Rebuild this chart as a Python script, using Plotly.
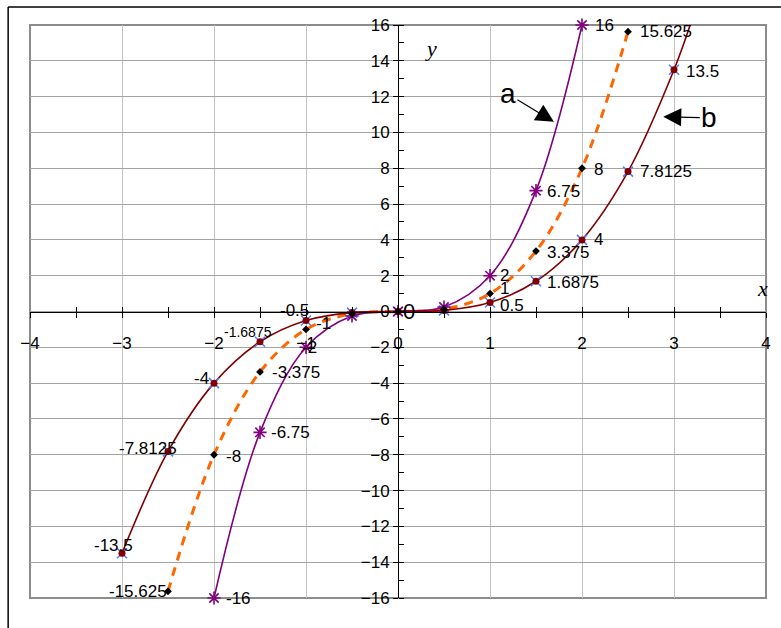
import plotly.graph_objects as go

# ---------------- data ----------------
xa = [-2, -1.5, -1, -0.5, 0, 0.5, 1, 1.5, 2]
ya = [-16, -6.75, -2, -0.25, 0, 0.25, 2, 6.75, 16]
la = ["-16", "-6.75", "-2", "", "0", "", "2", "6.75", "16"]

xo = [-2.5, -2, -1.5, -1, -0.5, 0, 0.5, 1, 1.5, 2, 2.5]
yo = [-15.625, -8, -3.375, -1, -0.125, 0, 0.125, 1, 3.375, 8, 15.625]
lo = ["-15.625", "-8", "-3.375", "-1", "", "", "", "1", "3.375", "8", "15.625"]

xb = [-3, -2.5, -2, -1.5, -1, -0.5, 0, 0.5, 1, 1.5, 2, 2.5, 3]
yb = [-13.5, -7.8125, -4, -1.6875, -0.5, -0.0625, 0, 0.0625, 0.5, 1.6875, 4, 7.8125, 13.5]
lb = ["-13.5", "-7.8125", "-4", "-1.6875", "-0.5", "", "", "", "0.5", "1.6875", "4", "7.8125", "13.5"]
# curve b continues past the last marker to the top edge
xb_line = xb + [3.2]
yb_line = yb + [16.38]

x_range = [-4, 4]
y_range = [-16, 16]

# ---------------- styles ----------------
PURPLE = "#800080"
DARKRED = "#800000"
ORANGE = "#ff6600"
BLUE = "#4f7dff"
FONT = "Liberation Sans, Arial, sans-serif"
LS = 17  # label size

# label placement: (xanchor, xshift, yshift, size)
pa = [("left", 10, 0, LS), ("left", 9, 0, LS), ("left", -6, 0, LS), None, ("left", 3, 0, 22),
      None, ("left", 8, 0, LS), ("left", 9, -1, LS), ("left", 11, 0, LS)]
po = [("right", 0.5, 0, LS), ("left", 10, -2, LS), ("left", 10, -1, LS), ("left", 8, 6, LS),
      None, None, None, ("left", 8, 5, LS), ("left", 9, -1, LS), ("left", 10, -1, LS),
      ("left", 10, 0, LS)]
pb = [("right", 13, 8, LS), ("right", 10.5, 3, LS), ("right", -3, 5, LS), ("right", 14, 10, 14),
      ("right", 4.6, 9.5, LS), None, None, None, ("left", 8, -2.5, LS), ("left", 9, -1, LS),
      ("left", 10, 0, LS), ("left", 9.5, 0, LS), ("left", 10, -2, LS)]

fig = go.Figure()

# orange dashed curve y = x^3
fig.add_trace(go.Scatter(x=xo, y=yo, mode="lines",
                         line=dict(color=ORANGE, width=3, dash="9px,7px", shape="spline"),
                         hoverinfo="skip", showlegend=False))
# curve a
fig.add_trace(go.Scatter(x=xa, y=ya, mode="lines",
                         line=dict(color=PURPLE, width=1.6, shape="spline"),
                         showlegend=False))
# curve b
fig.add_trace(go.Scatter(x=xb_line, y=yb_line, mode="lines",
                         line=dict(color=DARKRED, width=1.6, shape="spline"),
                         showlegend=False))
# b markers: blue x behind dark red circle
fig.add_trace(go.Scatter(x=xb, y=yb, mode="markers", cliponaxis=False,
                         marker=dict(symbol="x-thin-open", size=10, color=BLUE,
                                     line=dict(color=BLUE, width=1.5)),
                         showlegend=False))
# a markers: purple asterisk
fig.add_trace(go.Scatter(x=xa, y=ya, mode="markers", cliponaxis=False,
                         marker=dict(symbol="asterisk-open", size=11, color=PURPLE,
                                     line=dict(color=PURPLE, width=1.6)),
                         showlegend=False))
fig.add_trace(go.Scatter(x=xb, y=yb, mode="markers", cliponaxis=False,
                         marker=dict(symbol="circle", size=7, color=DARKRED),
                         showlegend=False))
# orange series markers: black diamonds
fig.add_trace(go.Scatter(x=xo, y=yo, mode="markers", cliponaxis=False,
                         marker=dict(symbol="diamond", size=6, color="black"),
                         showlegend=False))
# dummy trace for crossing-tick overlay axis
fig.add_trace(go.Scatter(x=[0], y=[0], xaxis="x2", mode="markers",
                         marker=dict(size=1, opacity=0), hoverinfo="skip", showlegend=False))

annotations = []
for xs, ys, labs, pos in ((xa, ya, la, pa), (xo, yo, lo, po), (xb, yb, lb, pb)):
    for x, y, t, p in zip(xs, ys, labs, pos):
        if p is None or t == "":
            continue
        anc, dx, dy, sz = p
        annotations.append(dict(x=x, y=y, text=t, showarrow=False, xanchor=anc,
                                yanchor="middle", xshift=dx, yshift=dy,
                                font=dict(family=FONT, size=sz, color="black")))

# axis names
annotations.append(dict(x=0.36, y=14.7, text="<i>y</i>", showarrow=False,
                        font=dict(family="Liberation Serif, Times New Roman, serif", size=22, color="black")))
annotations.append(dict(x=3.96, y=1.3, text="<i>x</i>", showarrow=False,
                        font=dict(family="Liberation Serif, Times New Roman, serif", size=22, color="black")))
# curve callouts
annotations.append(dict(x=1.695, y=10.59, ax=-46, ay=-28, text="a", showarrow=True,
                        arrowhead=2, arrowsize=3, arrowwidth=1.2, arrowcolor="black",
                        standoff=0, font=dict(family="Liberation Sans, Arial, sans-serif", size=28, color="black")))
annotations.append(dict(x=2.883, y=10.87, ax=46, ay=1, text="b", showarrow=True,
                        arrowhead=2, arrowsize=3, arrowwidth=1.2, arrowcolor="black",
                        standoff=0, font=dict(family="Liberation Sans, Arial, sans-serif", size=28, color="black")))

W, H = 781, 628
ML, MR, MT, MB = 30, 10, 25, 30
PW, PH = W - ML - MR, H - MT - MB


def px_x(p):
    return (p - ML) / PW


def px_y(p):
    return (H - MB - p) / PH


shapes = [
    dict(type="rect", xref="paper", yref="paper", x0=0, y0=0, x1=1, y1=1,
         line=dict(color="#8c8c8c", width=2), layer="below"),
    dict(type="line", xref="paper", yref="paper", x0=px_x(8), y0=px_y(7), x1=px_x(W + 5), y1=px_y(7),
         line=dict(color="black", width=1.5)),
    dict(type="line", xref="paper", yref="paper", x0=px_x(8), y0=px_y(7), x1=px_x(8), y1=px_y(H + 5),
         line=dict(color="black", width=1.5)),
]

tickfont = dict(family=FONT, size=17, color="black")

fig.update_layout(
    width=W, height=H,
    margin=dict(l=ML, r=MR, t=MT, b=MB),
    paper_bgcolor="white", plot_bgcolor="white",
    showlegend=False,
    annotations=annotations,
    shapes=shapes,
    xaxis=dict(range=x_range, dtick=1, tick0=0, showgrid=True, gridcolor="#c4c4c4", gridwidth=1.2,
               zeroline=False, showline=True, linecolor="black", linewidth=1,
               anchor="free", position=0.5, ticks="outside", ticklen=5, tickcolor="black",
               tickwidth=1, tickfont=tickfont, ticklabelstandoff=11,
               minor=dict(dtick=0.5, ticks="outside", ticklen=5, tickcolor="black", showgrid=False),
               fixedrange=True),
    xaxis2=dict(range=x_range, overlaying="x", anchor="free", position=0.5, dtick=1, tick0=0,
                showgrid=False, zeroline=False, showline=False, showticklabels=False,
                ticks="inside", ticklen=5, tickcolor="black",
                minor=dict(dtick=0.5, ticks="inside", ticklen=5, tickcolor="black", showgrid=False)),
    yaxis=dict(range=y_range, dtick=2, tick0=0, showgrid=True, gridcolor="#a3a3a3", gridwidth=1.2,
               zeroline=False, showline=True, linecolor="black", linewidth=1,
               anchor="free", position=0.5, ticks="outside", ticklen=5, tickcolor="black",
               tickfont=tickfont,
               minor=dict(dtick=1, ticks="inside", ticklen=5, tickcolor="black", showgrid=False),
               fixedrange=True),
)

fig.write_html("out.html", config={"displayModeBar": False},
               post_script="document.body.style.margin='0';")
